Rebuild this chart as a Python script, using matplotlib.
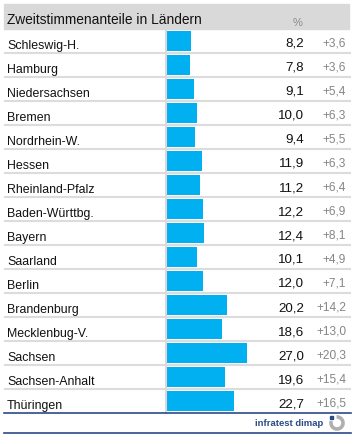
import matplotlib
matplotlib.use("Agg")
import matplotlib.pyplot as plt
from matplotlib.patches import Rectangle, Arc
from matplotlib.lines import Line2D

plt.rcParams['font.family'] = ['Liberation Sans', 'DejaVu Sans']

laender = ["Schleswig-H.", "Hamburg", "Niedersachsen", "Bremen", "Nordrhein-W.",
           "Hessen", "Rheinland-Pfalz", "Baden-Württbg.", "Bayern", "Saarland",
           "Berlin", "Brandenburg", "Mecklenbug-V.", "Sachsen", "Sachsen-Anhalt",
           "Thüringen"]
anteile = [8.2, 7.8, 9.1, 10.0, 9.4, 11.9, 11.2, 12.2, 12.4, 10.1, 12.0,
           20.2, 18.6, 27.0, 19.6, 22.7]
veraenderung = [3.6, 3.6, 5.4, 6.3, 5.5, 6.3, 6.4, 6.9, 8.1, 4.9, 7.1,
                14.2, 13.0, 20.3, 15.4, 16.5]
titel = "Zweitstimmenanteile in Ländern"

W, H = 356, 444
fig = plt.figure(figsize=(W / 100, H / 100), dpi=100)

def fx(px):
    return px / W

def fy(py):
    return 1 - py / H

# pixel geometry
x0, x1 = 167, 351
top, bot = 29, 413
scale = 2.96  # px per percent

ax = fig.add_axes([fx(x0), fy(bot), fx(x1) - fx(x0), fy(top) - fy(bot)])
n = len(laender)
ax.set_xlim(0, (x1 - x0) / scale)
ax.set_ylim(n - 0.5, -0.5)
ax.axis('off')

def dx(px):
    return (px - x0) / scale

ypos = list(range(n))
ax.barh(ypos, anteile, height=20 / 24, color='#00b0f0', zorder=2)

# title bar
fig.add_artist(Rectangle((fx(4), fy(29)), fx(349) - fx(4), fy(4) - fy(29),
                         transform=fig.transFigure, color='#d9d9d9', zorder=0))
fig.text(fx(7), fy(23.5), titel, fontsize=9.9, color='#111111', ha='left', va='baseline')
fig.text(fx(298), fy(25.5), "%", fontsize=8, color='#8a8a8a', ha='center', va='baseline')

# row separators
for i in range(n - 1):
    ax.plot([dx(4), dx(351)], [i + 0.5, i + 0.5], color='#dcdcdc', lw=1.5,
            clip_on=False, zorder=1, solid_capstyle='butt')
# vertical line
fig.add_artist(Line2D([fx(165.5), fx(165.5)], [fy(bot), fy(top)], color='#d9d9d9',
                      lw=1.5, transform=fig.transFigure, zorder=1))

for i in range(n):
    ax.text(dx(7), i + 0.33, laender[i], fontsize=8.9, color='#111111',
            ha='left', va='baseline', clip_on=False)
    ax.text(dx(304), i + 0.25, f"{anteile[i]:.1f}".replace('.', ','), fontsize=9.6,
            color='#111111', ha='right', va='baseline', clip_on=False)
    ax.text(dx(346), i + 0.23, "+" + f"{veraenderung[i]:.1f}".replace('.', ','),
            fontsize=8.6, color='#858585', ha='right', va='baseline', clip_on=False)

# bottom lines
for py in (413, 433):
    fig.add_artist(Line2D([fx(4), fx(351)], [fy(py), fy(py)], color='#2b4a86',
                          lw=1.2, transform=fig.transFigure))

# logo
fig.text(fx(323), fy(426), "infratest dimap", fontsize=6.8, fontweight='bold',
         color='#2b4a86', ha='right', va='baseline')
fig.add_artist(Arc((fx(337), fy(423)), 12 / W, 12 / H, theta1=165, theta2=455,
                   transform=fig.transFigure, color='#b0b0b0', lw=2.6))
fig.add_artist(Rectangle((fx(329.5), fy(418.5)), 3 / W, 3 / H, transform=fig.transFigure,
                         color='#2b4a86'))

fig.savefig("out.png", dpi=100)
